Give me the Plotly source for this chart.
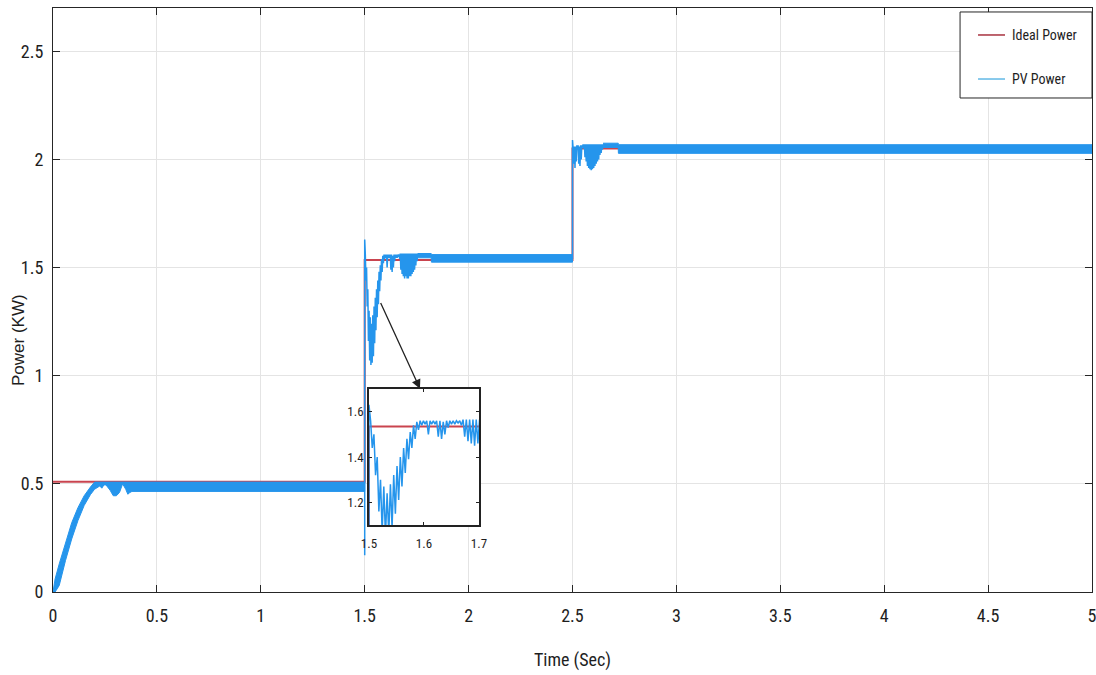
import plotly.graph_objects as go

# ---------------- data ----------------
# Ideal (reference) power, step profile
ideal_t = [0.0, 1.5, 1.5, 2.5, 2.5, 5.0]
ideal_p = [0.51, 0.51, 1.535, 1.535, 2.05, 2.05]

# PV power: ripple band envelopes (upper / lower) for the quasi steady parts
band1_t  = [0.0, 0.01, 0.03, 0.06, 0.09, 0.12, 0.15, 0.18, 0.20, 0.225, 0.235, 0.245, 0.255,
            0.275, 0.29, 0.305, 0.32, 0.335, 0.35, 0.36, 0.37, 0.38, 0.40, 0.70, 1.00, 1.30, 1.50]
band1_hi = [0.0, 0.06, 0.13, 0.23, 0.32, 0.39, 0.445, 0.485, 0.508, 0.508, 0.508, 0.508, 0.508,
            0.508, 0.508, 0.508, 0.508, 0.508, 0.508, 0.508, 0.508, 0.508, 0.508, 0.508, 0.508, 0.508, 0.508]
band1_lo = [0.0, 0.0, 0.03, 0.145, 0.245, 0.33, 0.40, 0.45, 0.475, 0.49, 0.48, 0.495, 0.495,
            0.47, 0.445, 0.445, 0.46, 0.50, 0.475, 0.452, 0.46, 0.465, 0.465, 0.465, 0.465, 0.465, 0.465]

band2_t  = [1.755, 1.82, 1.821, 2.0, 2.2, 2.4, 2.5]
band2_hi = [1.565, 1.565, 1.56, 1.56, 1.56, 1.56, 1.56]
band2_lo = [1.545, 1.545, 1.525, 1.525, 1.525, 1.525, 1.525]

band3_t  = [2.647, 2.72, 2.721, 3.0, 3.5, 4.0, 4.5, 5.0]
band3_hi = [2.075, 2.075, 2.068, 2.068, 2.068, 2.068, 2.068, 2.068]
band3_lo = [2.055, 2.055, 2.028, 2.028, 2.028, 2.028, 2.028, 2.028]

# PV power: transient after the step at 1.5 s
tr2_t = [1.5, 1.5, 1.5, 1.503, 1.506, 1.509, 1.512, 1.515, 1.518, 1.521, 1.524, 1.527, 1.530,
         1.533, 1.536, 1.539, 1.542, 1.545, 1.548, 1.551, 1.554, 1.557, 1.560, 1.563, 1.566,
         1.569, 1.572, 1.575, 1.578, 1.581, 1.584, 1.587, 1.590, 1.593, 1.596, 1.599, 1.602,
         1.605, 1.608, 1.611, 1.614, 1.617, 1.620, 1.623, 1.626, 1.629, 1.632, 1.635, 1.638,
         1.641, 1.644, 1.647, 1.650, 1.653, 1.656, 1.659, 1.662, 1.665, 1.668, 1.671, 1.674,
         1.677, 1.680, 1.683, 1.686, 1.689, 1.692, 1.695, 1.698, 1.701, 1.704, 1.707, 1.710,
         1.713, 1.716, 1.719, 1.722, 1.725, 1.728, 1.731, 1.734, 1.737, 1.740, 1.743, 1.746,
         1.749, 1.752, 1.755]
tr2_p = [0.47, 0.17, 1.63, 1.56, 1.44, 1.50, 1.32, 1.40, 1.16, 1.30, 1.07, 1.27, 1.05,
         1.24, 1.06, 1.28, 1.09, 1.32, 1.15, 1.36, 1.21, 1.40, 1.27, 1.44, 1.33,
         1.48, 1.39, 1.51, 1.44, 1.54, 1.48, 1.555, 1.52, 1.56, 1.54, 1.56, 1.545,
         1.56, 1.50, 1.56, 1.545, 1.56, 1.545, 1.56, 1.49, 1.56, 1.48, 1.555, 1.50,
         1.56, 1.53, 1.56, 1.545, 1.56, 1.545, 1.56, 1.55, 1.56, 1.54, 1.565, 1.49,
         1.565, 1.47, 1.565, 1.46, 1.565, 1.45, 1.565, 1.46, 1.565, 1.45, 1.565, 1.45,
         1.565, 1.46, 1.565, 1.46, 1.565, 1.47, 1.565, 1.48, 1.565, 1.49, 1.565, 1.51,
         1.565, 1.53, 1.565]

# PV power: transient after the step at 2.5 s
tr3_t = [2.5, 2.5, 2.503, 2.506, 2.509, 2.512, 2.515, 2.518, 2.521, 2.524, 2.527, 2.530,
         2.533, 2.536, 2.539, 2.542, 2.545, 2.548, 2.551, 2.554, 2.557, 2.560, 2.563, 2.566,
         2.569, 2.572, 2.575, 2.578, 2.581, 2.584, 2.587, 2.590, 2.593, 2.596, 2.599, 2.602,
         2.605, 2.608, 2.611, 2.614, 2.617, 2.620, 2.623, 2.626, 2.629, 2.632, 2.635, 2.638,
         2.641, 2.644, 2.647]
tr3_p = [1.54, 2.09, 2.05, 1.98, 2.06, 1.96, 2.06, 1.99, 2.065, 2.05, 2.065, 1.98,
         2.06, 1.97, 2.065, 2.00, 2.065, 2.055, 2.07, 2.05, 2.07, 2.01, 2.07, 1.99,
         2.07, 1.97, 2.07, 1.96, 2.07, 1.955, 2.07, 1.95, 2.07, 1.955, 2.07, 1.96,
         2.07, 1.97, 2.07, 1.98, 2.07, 1.99, 2.07, 2.00, 2.07, 2.02, 2.07, 2.03,
         2.07, 2.045, 2.07]

x_ticks = [0, 0.5, 1, 1.5, 2, 2.5, 3, 3.5, 4, 4.5, 5]
y_ticks = [0, 0.5, 1, 1.5, 2, 2.5]
inset_x_range = [1.5, 1.7]
inset_y_range = [1.1, 1.7]
inset_x_ticks = [1.5, 1.6, 1.7]
inset_y_ticks = [1.2, 1.4, 1.6]

legend_names = ["Ideal Power", "PV Power"]
legend_colors = ["#A8323F", "#62B8E6"]

# ---------------- styling ----------------
PV_COLOR = "#2595EC"
IDEAL_COLOR = "#C9444F"
NARROW = "Roboto Condensed, Liberation Sans Narrow, sans-serif"
AX_COLOR = "#262626"
TXT = "#1E1E1E"


def band_polygon(segments):
    xs, ys = [], []
    for t, hi, lo in segments:
        xs += list(t) + list(reversed(t)) + [None]
        ys += list(hi) + list(reversed(lo)) + [None]
    return xs, ys


bx, by = band_polygon([(band1_t, band1_hi, band1_lo),
                       (band2_t, band2_hi, band2_lo),
                       (band3_t, band3_hi, band3_lo)])

fig = go.Figure()

# main axes
fig.add_trace(go.Scatter(x=ideal_t, y=ideal_p, mode="lines", name="Ideal Power",
                         showlegend=False, line=dict(color=IDEAL_COLOR, width=2)))
fig.add_trace(go.Scatter(x=bx, y=by, mode="lines", fill="toself", fillcolor=PV_COLOR,
                         line=dict(color=PV_COLOR, width=1), showlegend=False,
                         hoverinfo="skip"))
fig.add_trace(go.Scatter(x=tr2_t + [None] + tr3_t, y=tr2_p + [None] + tr3_p, mode="lines",
                         name="PV Power", showlegend=False,
                         line=dict(color=PV_COLOR, width=1.5)))

# inset axes: white background, then the zoomed data
fig.add_trace(go.Scatter(
    x=[inset_x_range[0], inset_x_range[1], inset_x_range[1], inset_x_range[0], inset_x_range[0]],
    y=[inset_y_range[0], inset_y_range[0], inset_y_range[1], inset_y_range[1], inset_y_range[0]],
    mode="lines", fill="toself", fillcolor="white", line=dict(width=0),
    showlegend=False, hoverinfo="skip", xaxis="x2", yaxis="y2"))
fig.add_trace(go.Scatter(x=ideal_t, y=ideal_p, mode="lines", showlegend=False,
                         line=dict(color=IDEAL_COLOR, width=2), xaxis="x2", yaxis="y2"))
fig.add_trace(go.Scatter(x=tr2_t, y=tr2_p, mode="lines", showlegend=False,
                         line=dict(color=PV_COLOR, width=1.5), xaxis="x2", yaxis="y2"))

axis_common = dict(showline=True, linecolor=AX_COLOR, linewidth=1, mirror="ticks",
                   ticks="inside", ticklen=7, tickcolor=AX_COLOR, zeroline=False,
                   showgrid=True, gridcolor="#E4E4E4", gridwidth=1, automargin=False,
                   ticklabeloverflow="allow",
                   tickfont=dict(family=NARROW, size=18, color=TXT))

inset_common = dict(showline=True, linecolor="#222222", linewidth=1.5, mirror="ticks",
                    ticks="inside", ticklen=3, tickcolor="#222222", showgrid=False,
                    zeroline=False, automargin=False, ticklabeloverflow="allow",
                    tickfont=dict(family=NARROW, size=13, color=TXT))

fig.update_layout(
    width=1096, height=675,
    margin=dict(l=53, r=4, t=8, b=83),
    paper_bgcolor="white", plot_bgcolor="white",
    xaxis=dict(range=[0, 5], tickvals=x_ticks, domain=[0, 1], ticklabelstandoff=7,
               **axis_common),
    yaxis=dict(range=[0, 2.7], tickvals=y_ticks, domain=[0, 1], ticklabelstandoff=5,
               **axis_common),
    xaxis2=dict(range=inset_x_range, tickvals=inset_x_ticks, domain=[0.3041, 0.4100],
                anchor="y2", ticklabelstandoff=6, **inset_common),
    yaxis2=dict(range=inset_y_range, tickvals=inset_y_ticks, domain=[0.1147, 0.3476],
                anchor="x2", ticklabelstandoff=1, **inset_common),
    showlegend=False,
)

# legend box (drawn as in the reference, inside the top-right corner)
fig.add_shape(type="rect", xref="paper", yref="paper", x0=0.8730, x1=1.0, y0=0.8459, y1=0.9932,
              line=dict(color=AX_COLOR, width=1), fillcolor="white", layer="above")
legend_rows = [0.9538, 0.8784]
for name, col, yy in zip(legend_names, legend_colors, legend_rows):
    fig.add_shape(type="line", xref="paper", yref="paper", x0=0.8903, x1=0.9163, y0=yy, y1=yy,
                  line=dict(color=col, width=1.5), layer="above")
    fig.add_annotation(x=0.9211, y=yy, xref="paper", yref="paper", text=name, showarrow=False,
                       xanchor="left", yanchor="middle",
                       font=dict(family=NARROW, size=14, color=TXT))

# axis titles
fig.add_annotation(x=0.5, y=-0.1164, xref="paper", yref="paper", text="Time (Sec)",
                   showarrow=False, xanchor="center", yanchor="middle",
                   font=dict(family=NARROW, size=18, color=TXT))
fig.add_annotation(x=-0.0337, y=0.4315, xref="paper", yref="paper", text="Power (KW)",
                   showarrow=False, textangle=-90, xanchor="center", yanchor="middle",
                   font=dict(family="Liberation Sans, Arial, sans-serif", size=17, color=TXT))

# arrow from the transient to the inset
fig.add_annotation(x=1.766, y=0.94, ax=1.5736, ay=1.343, xref="x", yref="y",
                   axref="x", ayref="y", text="", showarrow=True, arrowhead=2,
                   arrowsize=1.4, arrowwidth=1.3, arrowcolor="#222222")

fig.write_html("out.html")
